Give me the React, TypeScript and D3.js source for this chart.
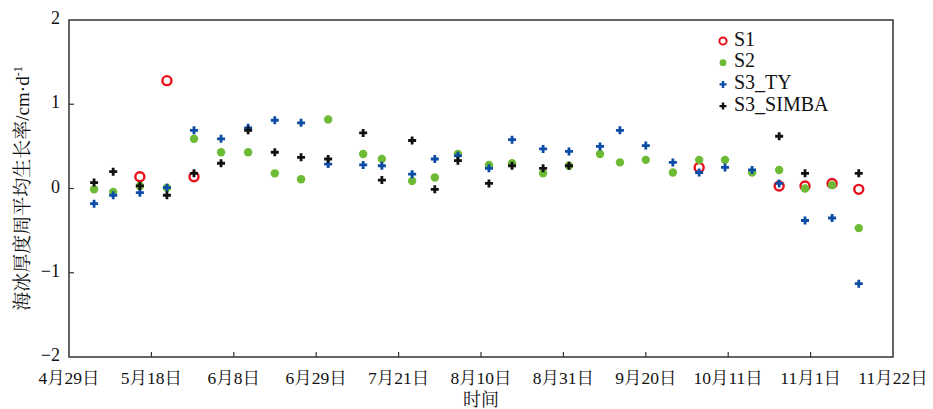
import { useRef, useEffect } from 'react'
import * as d3 from 'd3'

// days after 4/29 at which the weekly values were taken
const s1Days = [17.8, 24.6, 31.4, 158.3, 178.4, 184.9, 191.7, 198.4]
const s1Vals = [0.14, 1.28, 0.14, 0.25, 0.03, 0.03, 0.06, -0.01]

const s2Days = [6.3, 11.1, 17.8, 24.6, 31.4, 38.2, 45.0, 51.7, 58.3, 65.1, 73.9, 78.6, 86.2, 91.9, 97.7, 105.5, 111.3, 119.1, 125.6, 133.4, 138.4, 144.9, 151.7, 158.3, 164.8, 171.6, 178.4, 184.9, 191.7, 198.4]
const s2Vals = [-0.01, -0.04, 0.03, 0.01, 0.59, 0.43, 0.43, 0.18, 0.11, 0.82, 0.41, 0.35, 0.09, 0.13, 0.41, 0.28, 0.3, 0.18, 0.27, 0.41, 0.31, 0.34, 0.19, 0.34, 0.34, 0.19, 0.22, 0.0, 0.04, -0.47]

const tyDays = s2Days
const tyVals = [-0.18, -0.08, -0.05, 0.01, 0.69, 0.59, 0.72, 0.81, 0.78, 0.29, 0.28, 0.27, 0.17, 0.35, 0.39, 0.24, 0.58, 0.47, 0.44, 0.5, 0.69, 0.51, 0.31, 0.19, 0.25, 0.22, 0.06, -0.38, -0.35, -1.13]

const simbaDays = [6.3, 11.1, 17.8, 24.6, 31.4, 38.2, 45.0, 51.7, 58.3, 65.1, 73.9, 78.6, 86.2, 91.9, 97.7, 105.5, 111.3, 119.1, 125.6, 178.4, 184.9, 198.4]
const simbaVals = [0.07, 0.2, 0.03, -0.08, 0.18, 0.3, 0.69, 0.43, 0.37, 0.35, 0.66, 0.1, 0.57, -0.01, 0.33, 0.06, 0.27, 0.24, 0.27, 0.62, 0.18, 0.18]

const xTickLabels = ['4月29日', '5月18日', '6月8日', '6月29日', '7月21日', '8月10日', '8月31日', '9月20日', '10月11日', '11月1日', '11月22日']
const yTicks = [-2, -1, 0, 1, 2]
const seriesNames = ['S1', 'S2', 'S3_TY', 'S3_SIMBA']

const RED = '#e8101a'
const GREEN = '#6dbb35'
const BLUE = '#0c4ca6'
const BLACK = '#111111'
const FONT = "'Liberation Serif','Times New Roman','Noto Serif CJK SC','Noto Sans CJK SC',serif"

export default function App() {
  const svgRef = useRef<SVGSVGElement | null>(null)

  useEffect(() => {
    const svg = svgRef.current
    if (!svg) return
    const W = 933
    const H = 409
    const margin = { top: 20, right: 40, bottom: 52, left: 69 }
    const iW = W - margin.left - margin.right
    const iH = H - margin.top - margin.bottom

    const sel = d3.select(svg)
    sel.selectAll('*').remove()
    const g = sel.append('g').attr('transform', `translate(${margin.left},${margin.top})`)

    const x = d3.scaleLinear().domain([0, 207]).range([0, iW])
    const y = d3.scaleLinear().domain([-2, 2]).range([iH, 0])

    // frame
    g.append('rect')
      .attr('x', 0).attr('y', 0).attr('width', iW).attr('height', iH)
      .attr('fill', 'none').attr('stroke', '#333').attr('stroke-width', 1.5)

    // y ticks
    yTicks.forEach((t) => {
      if (t > -2 && t < 2) {
        g.append('line')
          .attr('x1', 0).attr('x2', 5)
          .attr('y1', y(t)).attr('y2', y(t))
          .attr('stroke', '#333').attr('stroke-width', 1.2)
      }
      g.append('text')
        .attr('x', -9).attr('y', y(t))
        .attr('text-anchor', 'end').attr('dominant-baseline', 'middle')
        .attr('font-family', FONT).attr('font-size', '18px').attr('fill', '#111')
        .text(t < 0 ? `\u2212${Math.abs(t)}` : `${t}`)
    })

    // x ticks, evenly spaced across the axis
    const step = 207 / (xTickLabels.length - 1)
    xTickLabels.forEach((lab, i) => {
      const px = x(i * step)
      if (i > 0 && i < xTickLabels.length - 1) {
        g.append('line')
          .attr('x1', px).attr('x2', px)
          .attr('y1', iH).attr('y2', iH - 5)
          .attr('stroke', '#333').attr('stroke-width', 1.2)
      }
      g.append('text')
        .attr('x', px).attr('y', iH + 27)
        .attr('text-anchor', 'middle')
        .attr('font-family', FONT).attr('font-size', '17.5px').attr('fill', '#111')
        .text(lab)
    })

    // axis titles
    g.append('text')
      .attr('x', iW / 2 - 0).attr('y', iH + 49)
      .attr('text-anchor', 'middle')
      .attr('font-family', FONT).attr('font-size', '18px').attr('fill', '#111')
      .text('时间')

    const yl = sel.append('text')
      .attr('transform', `translate(29,${margin.top + iH / 2}) rotate(-90)`)
      .attr('text-anchor', 'middle')
      .attr('font-family', FONT).attr('font-size', '19px').attr('fill', '#111')
    yl.append('tspan').text('海冰厚度周平均生长率/cm·d')
    yl.append('tspan').attr('dy', -7).attr('font-size', '12px').text('-1')

    const plus = (sel0: d3.Selection<SVGGElement, unknown, null, undefined>, cx: number, cy: number, color: string) => {
      sel0.append('path')
        .attr('d', `M${cx - 4},${cy}H${cx + 4}M${cx},${cy - 4}V${cy + 4}`)
        .attr('stroke', color).attr('stroke-width', 2.8).attr('fill', 'none')
    }

    const marks = g.append('g')
    s1Days.forEach((d, i) => {
      marks.append('circle')
        .attr('cx', x(d)).attr('cy', y(s1Vals[i])).attr('r', 4.5)
        .attr('fill', 'none').attr('stroke', RED).attr('stroke-width', 2.4)
    })
    s2Days.forEach((d, i) => {
      marks.append('circle')
        .attr('cx', x(d)).attr('cy', y(s2Vals[i])).attr('r', 4.2)
        .attr('fill', GREEN)
    })
    tyDays.forEach((d, i) => plus(marks, x(d), y(tyVals[i]), BLUE))
    simbaDays.forEach((d, i) => plus(marks, x(d), y(simbaVals[i]), BLACK))

    // legend
    const lg = sel.append('g').attr('transform', 'translate(723,41)')
    seriesNames.forEach((name, i) => {
      const cy = i * 21.7
      if (i === 0) {
        lg.append('circle').attr('cx', 0).attr('cy', cy).attr('r', 3.6)
          .attr('fill', 'none').attr('stroke', RED).attr('stroke-width', 2)
      } else if (i === 1) {
        lg.append('circle').attr('cx', 0).attr('cy', cy).attr('r', 3.4).attr('fill', GREEN)
      } else {
        lg.append('path')
          .attr('d', `M-3.5,${cy}H3.5M0,${cy - 3.5}V${cy + 3.5}`)
          .attr('stroke', i === 2 ? BLUE : BLACK).attr('stroke-width', 2.4)
      }
      lg.append('text')
        .attr('x', 11).attr('y', cy)
        .attr('dominant-baseline', 'middle')
        .attr('font-family', FONT).attr('font-size', '20px').attr('fill', '#111')
        .text(name)
    })
  }, [])

  return (
    <svg
      ref={svgRef}
      width={933}
      height={409}
      style={{ position: 'absolute', left: 0, top: 0, background: '#fff', display: 'block' }}
    />
  )
}
